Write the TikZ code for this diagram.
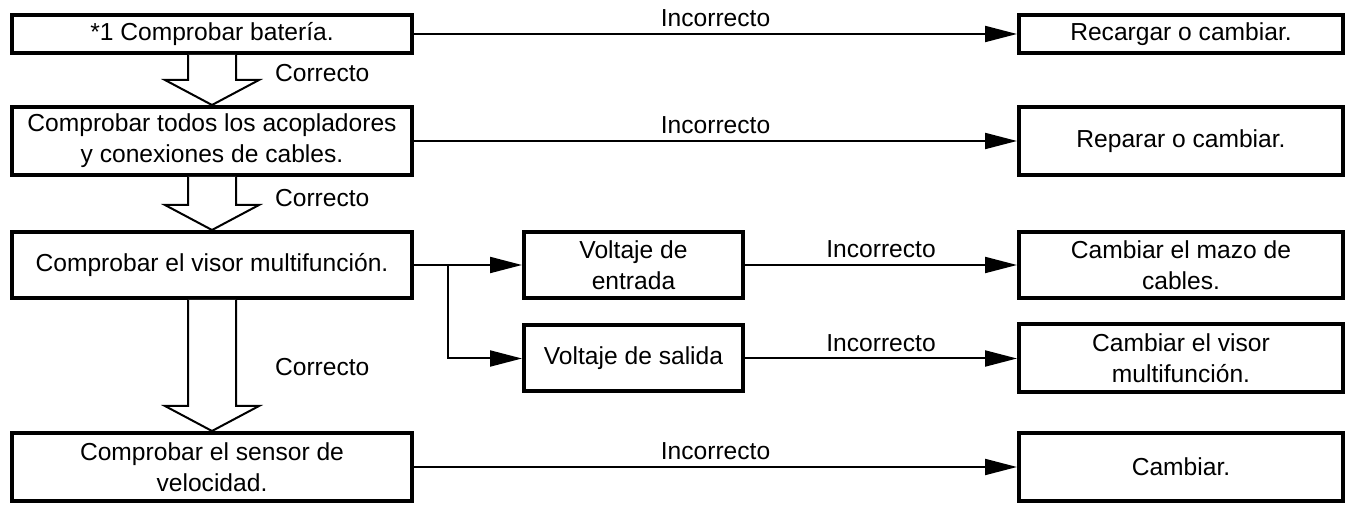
\documentclass[tikz,border=0pt]{standalone}
\usepackage{fontspec}
\setmainfont{Liberation Sans}
\usetikzlibrary{arrows.meta,positioning,calc}

% open block arrow from one box down to the next
\newcommand{\okarrow}[2]{%
  \draw[barrow] ($(#1.south)+(-24,0)$) -- ($(#2.north)+(-24,-25)$)
    -- ($(#2.north)+(-47,-25)$) -- (#2.north) -- ($(#2.north)+(47,-25)$)
    -- ($(#2.north)+(24,-25)$) -- ($(#1.south)+(24,0)$);}

\begin{document}
\begin{tikzpicture}[
  x=0.5pt, y=-0.5pt,
  font=\fontsize{12.3}{15.5}\selectfont,
  box/.style={draw, line width=2pt, align=center, inner sep=2pt},
  lbox/.style={box, minimum width=200pt},
  mbox/.style={box, minimum width=109.5pt},
  rbox/.style={box, minimum width=162pt},
  arr/.style={line width=1pt, -{Triangle[length=16pt, width=8pt]}},
  barrow/.style={line width=1pt, fill=white},
  lbl/.style={above, inner sep=3pt}
]
\useasboundingbox (0,0) rectangle (1356,512);

%─── Checks (left column) ────────────────────────────────────────────────
\node[lbox, minimum height=19pt] (bat) at (212,34) {*1 Comprobar batería.};
\node[lbox, minimum height=34pt] (acop) at (212,141)
  {Comprobar todos los acopladores\\y conexiones de cables.};
\node[lbox, minimum height=33pt] (visor) at (212,265)
  {Comprobar el visor multifunción.};
\node[lbox, minimum height=34pt] (sensor) at (212,467)
  {Comprobar el sensor de\\velocidad.};

% Correcto arrows
\okarrow{bat}{acop}
\okarrow{acop}{visor}
\okarrow{visor}{sensor}
\node[anchor=west] (ok1) at (268,73) {Correcto};
\node[anchor=west] (ok2) at (268,198) {Correcto};
\node[anchor=west] (ok3) at (268,367) {Correcto};

%─── Voltage checks (middle) ─────────────────────────────────────────────
\node[mbox, minimum height=33pt] (entrada) at (633.5,265) {Voltaje de\\entrada};
\node[mbox, minimum height=33pt] (salida) at (633.5,358.5) {Voltaje de salida};
\coordinate (fork) at ($(visor.east)+(34,0)$);
\draw[arr] (visor) -- (entrada);
\draw[arr] (fork) |- (salida);

%─── Remedies (right column) ─────────────────────────────────────────────
\node[rbox, minimum height=19pt] (recargar) at (1181,34) {Recargar o cambiar.};
\node[rbox, minimum height=34pt] (reparar) at (1181,141) {Reparar o cambiar.};
\node[rbox, minimum height=33pt] (mazo) at (1181,265)
  {Cambiar el mazo de\\cables.};
\node[rbox, minimum height=34pt] (cvisor) at (1181,358.5)
  {Cambiar el visor\\multifunción.};
\node[rbox, minimum height=34pt] (cambiar) at (1181,467) {Cambiar.};

% Incorrecto arrows
\draw[arr] (bat) -- node[lbl] {Incorrecto} (recargar);
\draw[arr] (acop) -- node[lbl] {Incorrecto} (reparar);
\draw[arr] (entrada) -- node[lbl] {Incorrecto} (mazo);
\draw[arr] (salida) -- node[lbl] {Incorrecto} (cvisor);
\draw[arr] (sensor) -- node[lbl] {Incorrecto} (cambiar);

\end{tikzpicture}
\end{document}
